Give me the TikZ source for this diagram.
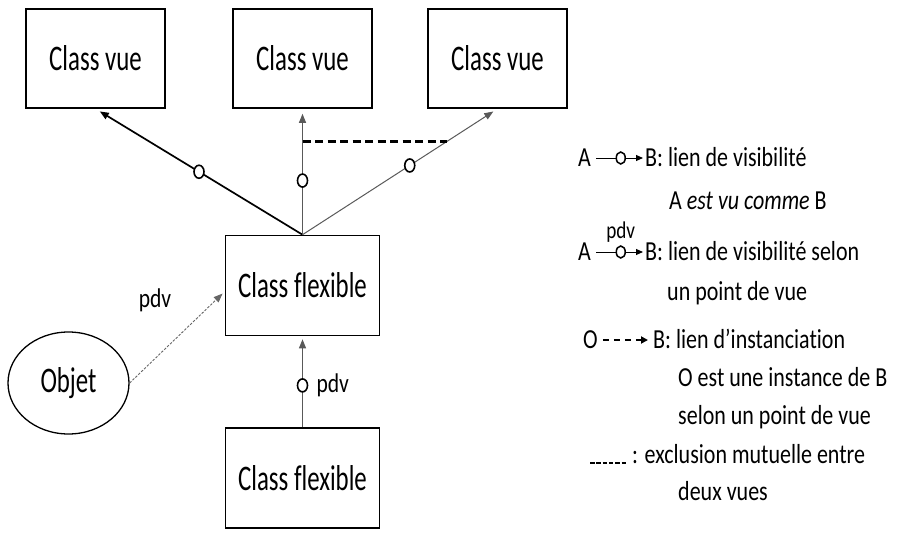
\documentclass[tikz,border=0pt]{standalone}
\usepackage{fontspec}
\setmainfont{Carlito}
% narrow, tall lettering for the diagram and the legend
\newfontfamily\boxfont{Carlito}[FakeStretch=0.69,Ligatures=NoCommon]
\newfontfamily\legfont{Carlito}[FakeStretch=0.8,Ligatures=NoCommon]
\usetikzlibrary{arrows.meta,shapes.geometric}
\begin{document}
\begin{tikzpicture}[x=1pt,y=-1pt,
  classbox/.style={draw,line width=1.6pt,minimum width=139pt,minimum height=99pt,inner sep=0pt,font=\boxfont\fontsize{36}{40}\selectfont},
  flexbox/.style={classbox,minimum width=154pt,minimum height=100pt},
  objshape/.style={draw,ellipse,line width=1.3pt,minimum width=121pt,minimum height=102pt,inner sep=0pt,font=\boxfont\fontsize{36}{40}\selectfont},
  linkhead/.style={-{Triangle[length=9pt,width=7pt]}},
  heavylink/.style={linkhead,line width=1.7pt},
  lightlink/.style={linkhead,line width=1pt,draw=black!65},
  vis/.style={draw=black,fill=white,ellipse,line width=1.6pt,minimum width=10pt,minimum height=13pt,inner sep=0pt},
  smallvis/.style={vis,line width=1.5pt,minimum width=9pt,minimum height=12pt},
  excl/.style={line width=2.2pt,dash pattern=on 8pt off 4.5pt},
  inst/.style={linkhead,line width=0.9pt,draw=black!60,dash pattern=on 2.5pt off 1.5pt},
  lbl/.style={font=\legfont\fontsize{27}{30}\selectfont,inner sep=0pt},
  leg/.style={font=\legfont\fontsize{27.5}{30}\selectfont,inner sep=0pt,anchor=west,text height=17.4pt,text depth=0pt},
  legarrow/.style={line width=1pt,-{Triangle[length=7pt,width=6pt]}},
  legdash/.style={line width=2.4pt,dash pattern=on 6pt off 5pt,-{Triangle[length=7pt,width=7pt]}},
]
\useasboundingbox (0,0) rectangle (898,535);

% class nodes
\node[classbox] (v1) at (95.5,58.5) {Class vue};
\node[classbox] (v2) at (302.5,58.5) {Class vue};
\node[classbox] (v3) at (497.5,58.5) {Class vue};
\node[flexbox] (flex) at (302.5,285.5) {Class flexible};
\node[flexbox] (fb) at (302.5,478) {Class flexible};
\node[objshape] (obj) at (68.5,383) {Objet};

% visibility links from the flexible class to its views
\draw[heavylink,shorten >=5pt] (flex.north) -- node[vis,pos=0.5] (c1) {} (v1.south);
\draw[lightlink,shorten >=5pt] (flex.north) -- coordinate[pos=0.74] (ex1) node[vis,pos=0.43] (c2) {} (v2.south);
\draw[lightlink,shorten >=5pt] (flex.north) -- coordinate[pos=0.74] (ex2) node[vis,pos=0.55] (c3) {} (v3.south);
\draw[excl] (ex1) -- (ex2);

% link between the two flexible classes
\draw[lightlink,shorten >=3pt] (fb.north) -- node[vis,pos=0.46] (c4) {} (flex.south);
\node[lbl,anchor=west] (p2) at ([xshift=8pt]c4.east) {pdv};

% instanciation of the object
\draw[inst,shorten >=3pt] (obj.east) -- ([yshift=-6pt]flex.west);
\node[lbl] (p1) at (155,300) {pdv};

% legend
\node[leg] (la1) at (578,158) {A};
\node[leg] (lb1) at (645,158) {B: lien de visibilité};
\draw[legarrow,shorten <=5pt,shorten >=2pt] (la1.east) -- node[smallvis,pos=0.55] (lc1) {} (lb1.west);
\node[leg] (lt2) at (669,201) {A \textit{est vu comme} B};

\node[leg] (la3) at (578,252) {A};
\node[leg] (lb3) at (645,252) {B: lien de visibilité selon};
\draw[legarrow,shorten <=5pt,shorten >=2pt] (la3.east) -- node[smallvis,pos=0.55] (lc3) {} (lb3.west);
\node[font=\legfont\fontsize{24}{26}\selectfont,inner sep=0pt,anchor=south] (lp3) at ([yshift=3pt]lc3.north) {pdv};
\node[leg] (lt4) at (667,292) {un point de vue};

\node[leg] (lo5) at (583,340) {O};
\node[leg] (lb5) at (653,340) {B: lien d’instanciation};
\draw[legdash,shorten <=5pt,shorten >=5pt] (lo5.east) -- (lb5.west);
\node[leg] (lt6) at (678,378) {O est une instance de B};
\node[leg] (lt7) at (678,416) {selon un point de vue};

\node[leg] (lx8) at (632,455) {: exclusion mutuelle entre};
\draw[line width=2pt,dash pattern=on 4.5pt off 1.8pt] ([xshift=-42pt,yshift=-8pt]lx8.west) coordinate (lx8s) -- ++(36,0);
\node[leg] (lt9) at (678,492) {deux vues};
\end{tikzpicture}
\end{document}
